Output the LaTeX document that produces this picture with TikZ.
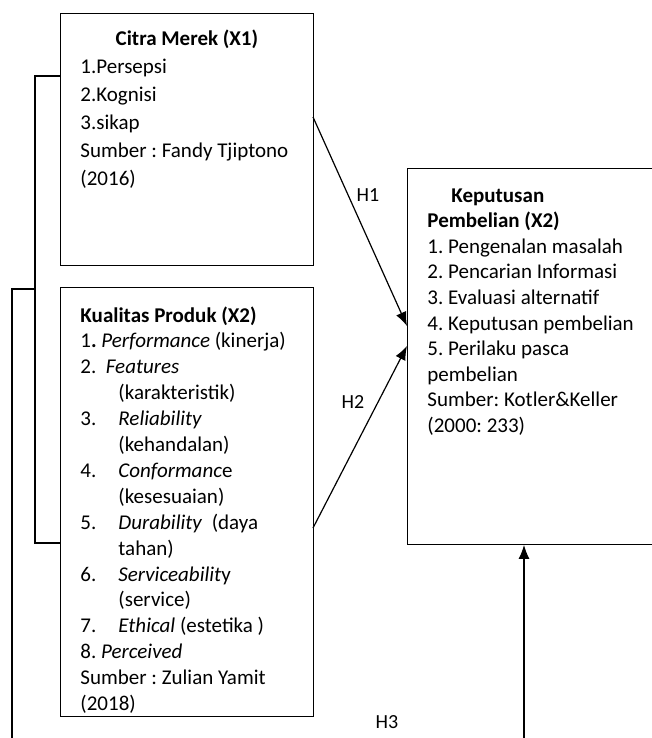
\documentclass[tikz,border=0pt]{standalone}
\usepackage{fontspec}
\setmainfont{Carlito}
\usepackage{tikz}
\usetikzlibrary{arrows.meta,positioning}
\frenchspacing
\tikzstyle{varbox} = [draw, line width=0.9pt, rectangle, inner xsep=20pt, inner ysep=0pt, anchor=north west, align=left]
\tikzstyle{hyp} = [draw=none, fill=none, font=\fontsize{20}{24}\selectfont]
\tikzstyle{link} = [draw, line width=1.2pt]
\tikzstyle{tedge} = [draw, line width=1.2pt, -{Latex[length=14pt,width=11pt]}]
\newcommand{\itm}[1]{\makebox[38pt][l]{#1}}

\begin{document}
\begin{tikzpicture}[x=1pt,y=-1pt]
\useasboundingbox (0,0) rectangle (652,738);

% boxes ==================================

\node[varbox] (x1) at (60,13) {\parbox[c][252pt][t]{213pt}{\fontsize{21}{28}\selectfont\vspace*{16pt}%
\makebox[213pt][c]{\textbf{Citra Merek (X1)}}\\
1.Persepsi\\
2.Kognisi\\
3.sikap\\
Sumber : Fandy Tjiptono\\
(2016)}};

\node[varbox] (x2) at (60,287) {\parbox[c][429pt][t]{213pt}{\fontsize{21}{25.9}\selectfont\vspace*{19pt}%
\textbf{Kualitas Produk (X2)}\\
1\textbf{.} \textit{Performance} (kinerja)\\
2.\ \ \textit{Features}\\
\hspace*{38pt}(karakteristik)\\
\itm{3.}\textit{Reliability}\\
\hspace*{38pt}(kehandalan)\\
\itm{4.}\textit{Conformanc}e\\
\hspace*{38pt}(kesesuaian)\\
\itm{5.}\textit{Durability}\ \ (daya\\
\hspace*{38pt}tahan)\\
\itm{6.}\textit{Serviceabilit}y\\
\hspace*{38pt}(service)\\
\itm{7.}\textit{Ethical} (estetika )\\
8. \textit{Perceived}\\
Sumber : Zulian Yamit\\
(2018)}};

\node[varbox] (y) at (407,168) {\parbox[c][376pt][t]{230pt}{\fontsize{21}{25.6}\selectfont\vspace*{20pt}%
\hspace*{24pt}\textbf{Keputusan}\\
\textbf{Pembelian (X2)}\\
1. Pengenalan masalah\\
2. Pencarian Informasi\\
3. Evaluasi alternatif\\
4. Keputusan pembelian\\
5. Perilaku pasca\\
pembelian\\
Sumber: Kotler\&Keller\\
(2000: 233)}};

% bracket on the left ====================
\coordinate (b1) at (35,76);
\coordinate (b2) at (35,543);
\coordinate (b3) at (35,289);
\coordinate (b4) at (12,289);
\coordinate (b5) at (12,740);
\path[link] (x1.west |- b1) -- (b1) -- (b2) -- (x2.west |- b2);
\path[link] (b3) -- (b4) -- (b5);

% edges ==================================
\coordinate (a1) at (313,117);
\coordinate (e1) at (407,326);
\coordinate (a2) at (313,528);
\coordinate (e2) at (407,346);
\coordinate (a3) at (524,740);
\path[tedge] (a1) -- (e1);
\path[tedge] (a2) -- (e2);
\path[tedge] (a3) -- (y.south -| a3);

% labels
\node[hyp] (h1) at (368,195) {H1};
\node[hyp] (h2) at (353,402) {H2};
\node[hyp] (h3) at (387,722) {H3};

\end{tikzpicture}
\end{document}
